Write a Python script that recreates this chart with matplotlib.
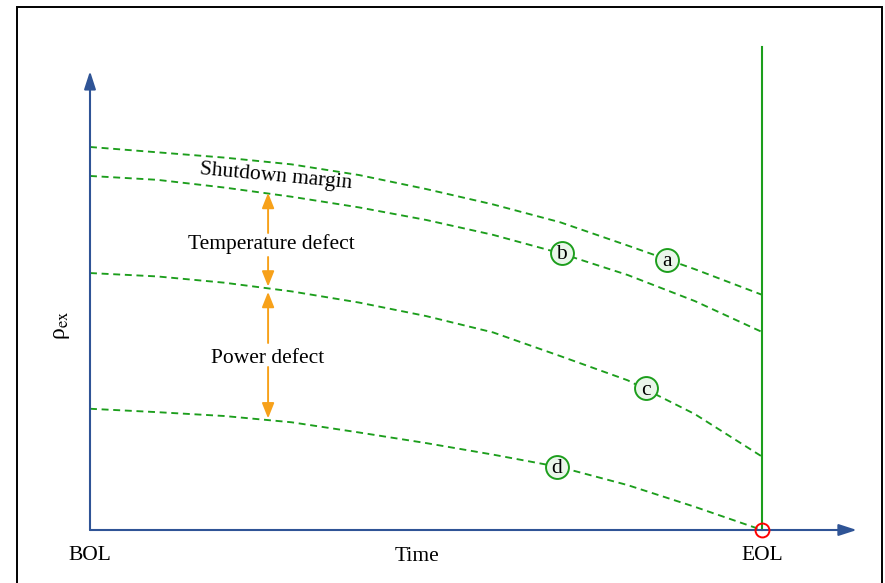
import matplotlib
matplotlib.use("Agg")
import matplotlib.pyplot as plt
from matplotlib.patches import Rectangle

plt.rcParams['font.family'] = ['Liberation Serif', 'DejaVu Serif']
plt.rcParams['mathtext.fontset'] = 'stix'

# --- data (time normalised BOL=0 .. EOL=1, reactivity normalised) ---
time = [0.0, 0.1, 0.2, 0.3, 0.4, 0.5, 0.6, 0.7, 0.8, 0.9, 1.0]
curve_a = [0.793, 0.782, 0.771, 0.757, 0.735, 0.706, 0.674, 0.637, 0.589, 0.540, 0.487]
curve_b = [0.733, 0.725, 0.709, 0.690, 0.668, 0.642, 0.611, 0.573, 0.528, 0.474, 0.410]
curve_c = [0.532, 0.525, 0.512, 0.494, 0.471, 0.443, 0.409, 0.360, 0.310, 0.240, 0.152]
curve_d = [0.251, 0.244, 0.236, 0.223, 0.202, 0.180, 0.156, 0.130, 0.093, 0.048, 0.000]
curves = [curve_a, curve_b, curve_c, curve_d]

circle_names = ['a', 'b', 'c', 'd']
circle_t = [0.858, 0.702, 0.828, 0.695]
circle_rho = [0.560, 0.573, 0.293, 0.131]

defect_t = 0.265
temp_top, temp_bot = 0.698, 0.504
power_top, power_bot = 0.493, 0.231

green = '#1c9e1c'
blue = '#2f5496'
orange = '#f7a11a'
fs = 15.5

fig = plt.figure(figsize=(8.85, 5.83), dpi=100)
ax = fig.add_axes([0, 0, 1, 1])
ax.axis('off')
ax.set_xlim(-90 / 672, 795 / 672)
ax.set_ylim(-53 / 483, 530 / 483)

# frame round the figure
fig.patches.append(Rectangle((17 / 885, -0.02), 865 / 885, 1 - 7 / 583 + 0.02,
                             transform=fig.transFigure, fill=False,
                             edgecolor='black', lw=1.4))

# axes with arrows
arr = dict(arrowstyle='-|>,head_length=0.4,head_width=0.13', color=blue,
           lw=1.5, shrinkA=0, shrinkB=0, mutation_scale=27)
ax.annotate('', xy=(0, 0.950), xytext=(0, 0), arrowprops=arr)
ax.annotate('', xy=(1.141, 0), xytext=(0, 0), arrowprops=arr)

# curves
for c in curves:
    ax.plot(time, c, color=green, lw=1.35, dashes=(3.7, 2.5))

# EOL line and red circle
ax.plot([1, 1], [0, 1], color=green, lw=1.5)
ax.plot([1], [0], 'o', ms=10, mfc='none', mec='red', mew=1.4, zorder=5)

# curve labels
for name, t, r in zip(circle_names, circle_t, circle_rho):
    ax.plot([t], [r], 'o', ms=16.5, mfc='#eaf6ea', mec=green, mew=1.4, zorder=4)
    ax.annotate(name, (t, r), xytext=(0, -1.2), textcoords='offset points',
                fontsize=fs, ha='center', va='center', zorder=5)

# defect arrows
oarr = dict(arrowstyle='-|>,head_length=0.4,head_width=0.16', color=orange,
            lw=1.4, shrinkA=0, shrinkB=0, mutation_scale=23)
ax.annotate('', xy=(defect_t, temp_top), xytext=(defect_t, (530 - 233) / 483), arrowprops=oarr)
ax.annotate('', xy=(defect_t, temp_bot), xytext=(defect_t, (530 - 257) / 483), arrowprops=oarr)
ax.annotate('', xy=(defect_t, power_top), xytext=(defect_t, (530 - 343) / 483), arrowprops=oarr)
ax.annotate('', xy=(defect_t, power_bot), xytext=(defect_t, (530 - 367) / 483), arrowprops=oarr)

ax.text(0.270, 0.581, 'Temperature defect', fontsize=fs, ha='center', va='baseline')
ax.text(0.2645, 0.346, 'Power defect', fontsize=fs, ha='center', va='baseline')
ax.text(0.276, 0.731, 'Shutdown margin', fontsize=fs, ha='center', va='center',
        rotation=-5.3, rotation_mode='anchor')

# axis labels
ax.text(0, -0.062, 'BOL', fontsize=fs, ha='center', va='baseline')
ax.text(1, -0.062, 'EOL', fontsize=fs, ha='center', va='baseline')
ax.text(0.4866, -0.064, 'Time', fontsize=fs, ha='center', va='baseline')
ax.text(-0.042, 0.424, r'ρ$_{\mathrm{ex}}$', fontsize=17, ha='center',
        va='center', rotation=90)

fig.savefig('out.png', dpi=100)
